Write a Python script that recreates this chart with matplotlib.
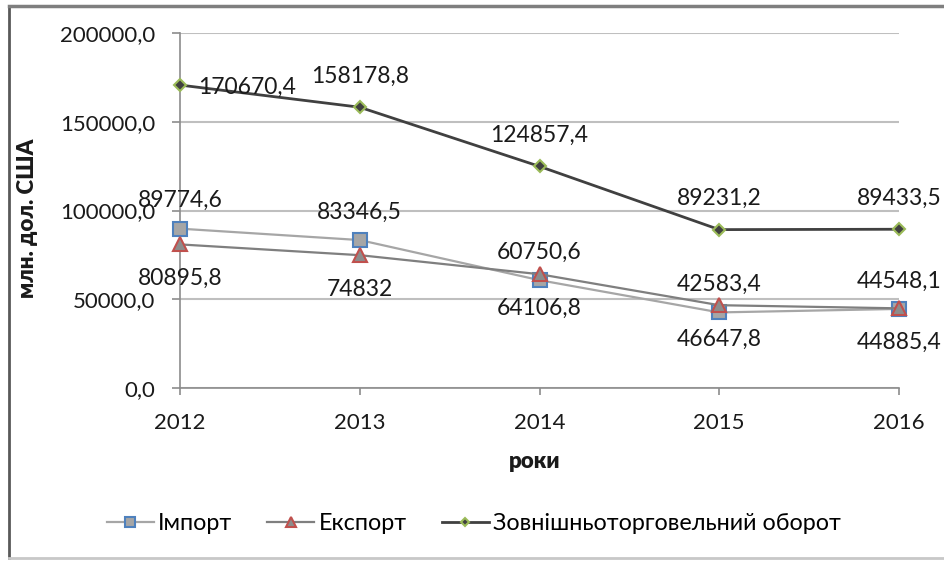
import matplotlib
matplotlib.use("Agg")
import matplotlib.pyplot as plt
from matplotlib.lines import Line2D
from matplotlib.ticker import FuncFormatter, MultipleLocator

plt.rcParams['font.family'] = ['Lato', 'Open Sans', 'DejaVu Sans']

# data (млн. дол. США)
years = [2012, 2013, 2014, 2015, 2016]
imports = [89774.6, 83346.5, 60750.6, 42583.4, 44548.1]
exports = [80895.8, 74832.0, 64106.8, 46647.8, 44885.4]
turnover = [170670.4, 158178.8, 124857.4, 89231.2, 89433.5]


def fmt(v):
    if v == int(v):
        return "%d" % v
    return ("%.1f" % v).replace(".", ",")


fig = plt.figure(figsize=(9.44, 5.61), dpi=100)
ax = fig.add_axes([180 / 944, 1 - 388 / 561, 719 / 944, 355 / 561])

ax.plot(years, imports, color='#a6a6a6', lw=1.6, marker='s', ms=10,
        mfc='#a6a6a6', mec='#4f81bd', mew=1.5, label='Імпорт', zorder=3,
        clip_on=False)
ax.plot(years, exports, color='#7f7f7f', lw=1.6, marker='^', ms=10,
        mfc='#8c8c8c', mec='#c0504d', mew=1.5, label='Експорт', zorder=3,
        clip_on=False)
ax.plot(years, turnover, color='#404040', lw=2.0, marker='D', ms=6,
        mfc='#404040', mec='#9bbb59', mew=1.5,
        label='Зовнішньоторговельний оборот', zorder=3, clip_on=False)

# data labels
for x, v in zip(years, imports):
    ax.annotate(fmt(v), (x, v), xytext=(0, 28), textcoords='offset pixels',
                ha='center', va='center', fontsize=16.5, color='#1a1a1a')
for x, v in zip(years, exports):
    ax.annotate(fmt(v), (x, v), xytext=(0, -34), textcoords='offset pixels',
                ha='center', va='center', fontsize=16.5, color='#1a1a1a')
for i, (x, v) in enumerate(zip(years, turnover)):
    if i == 0:
        ax.annotate(fmt(v), (x, v), xytext=(18, -2), textcoords='offset pixels',
                    ha='left', va='center', fontsize=16.5, color='#1a1a1a')
    else:
        ax.annotate(fmt(v), (x, v), xytext=(0, 31), textcoords='offset pixels',
                    ha='center', va='center', fontsize=16.5, color='#1a1a1a')

ax.set_xlim(2012, 2016)
ax.set_ylim(0, 200000)
ax.set_xticks(years)
ax.yaxis.set_major_locator(MultipleLocator(50000))
ax.yaxis.set_major_formatter(FuncFormatter(lambda v, p: ("%.1f" % v).replace(".", ",")))
ax.grid(axis='y', color='#bfbfbf', lw=1.5)
ax.set_axisbelow(True)
for s in ['top', 'right']:
    ax.spines[s].set_visible(False)
for s in ['left', 'bottom']:
    ax.spines[s].set_color('#8c8c8c')
    ax.spines[s].set_linewidth(1.2)
ax.tick_params(axis='y', length=6, width=1.2, color='#8c8c8c', pad=12,
               labelsize=16, labelcolor='#1a1a1a')
ax.tick_params(axis='x', length=5, width=1.2, color='#8c8c8c', pad=13,
               labelsize=16, labelcolor='#1a1a1a')
ax.patch.set_visible(False)

fig.text(535 / 944, 1 - 462 / 561, 'роки', ha='center', va='center',
         fontsize=16, fontweight='heavy', color='#1a1a1a')
fig.text(28 / 944, 1 - 218 / 561, 'млн. дол. США', ha='center', va='center',
         rotation=90, fontsize=16, fontweight='heavy', color='#1a1a1a')

fig.legend(loc='center', bbox_to_anchor=(474 / 944, 1 - 524 / 561), ncol=3,
           frameon=False, fontsize=16.8, handlelength=2.0, handletextpad=0.2,
           columnspacing=1.5, markerscale=0.7)

# outer frame
fig.add_artist(Line2D([9 / 944, 9 / 944], [1 - 6 / 561, 1 - 558 / 561],
                      transform=fig.transFigure, color='#595959', lw=2))
fig.add_artist(Line2D([9 / 944, 1], [1 - 6 / 561, 1 - 6 / 561],
                      transform=fig.transFigure, color='#7f7f7f', lw=2.5))
fig.add_artist(Line2D([9 / 944, 1], [1 - 558 / 561, 1 - 558 / 561],
                      transform=fig.transFigure, color='#c8c8c8', lw=2))

fig.savefig('out.png', dpi=100)
